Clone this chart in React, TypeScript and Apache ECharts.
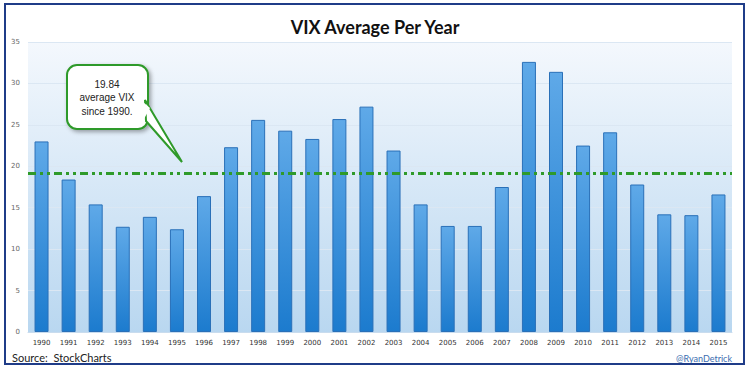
import React, { useEffect, useRef } from "react";
import * as echarts from "echarts";

const years = ["1990","1991","1992","1993","1994","1995","1996","1997","1998","1999","2000","2001","2002","2003","2004","2005","2006","2007","2008","2009","2010","2011","2012","2013","2014","2015"];
const vixAverage = [23.0, 18.4, 15.4, 12.7, 13.9, 12.4, 16.4, 22.3, 25.6, 24.3, 23.3, 25.7, 27.2, 21.9, 15.4, 12.8, 12.8, 17.5, 32.6, 31.4, 22.5, 24.1, 17.8, 14.2, 14.1, 16.6];
const averageLineLevel = 19.2;
const calloutLines = ["19.84", "average VIX", "since 1990."];

export default function App() {
  const ref = useRef<HTMLDivElement>(null);
  useEffect(() => {
    if (!ref.current) return;
    const chart = echarts.init(ref.current, null, { renderer: "svg" });
    const green = "#2f9a2a";
    chart.setOption({
      animation: false,
      backgroundColor: "#ffffff",
      title: {
        text: "VIX Average Per Year",
        left: "center",
        top: 13,
        textStyle: { fontFamily: "Lato", fontWeight: "bold", fontSize: 18, color: "#111" },
      },
      grid: {
        left: 28, right: 18, top: 42, bottom: 39,
        show: true,
        borderWidth: 0,
        backgroundColor: new echarts.graphic.LinearGradient(0, 0, 0, 1, [
          { offset: 0, color: "#f4f8fd" },
          { offset: 1, color: "#b9d7f0" },
        ]),
      },
      xAxis: {
        type: "category",
        data: years,
        axisTick: { show: false },
        axisLine: { show: true, lineStyle: { color: "#c9dcee" } },
        axisLabel: { fontSize: 7, color: "#333", margin: 7, fontFamily: "DejaVu Sans" },
      },
      yAxis: {
        type: "value",
        min: 0, max: 35, interval: 5,
        axisLabel: { fontSize: 7, color: "#666", margin: 8, fontFamily: "DejaVu Sans" },
        splitLine: { lineStyle: { color: "#dbe7f3", width: 1 } },
        axisLine: { show: false },
        axisTick: { show: false },
      },
      series: [
        {
          type: "bar",
          data: vixAverage,
          barWidth: 14,
          itemStyle: {
            color: new echarts.graphic.LinearGradient(0, 0, 0, 1, [
              { offset: 0, color: "#5fa9e8" },
              { offset: 1, color: "#1c7bce" },
            ]),
            borderColor: "#2a70b8",
            borderWidth: 1,
          },
          markLine: {
            symbol: "none",
            silent: true,
            label: { show: false },
            lineStyle: { color: green, width: 3, type: [8, 4, 3, 4, 3, 4], opacity: 1 },
            data: [{ yAxis: averageLineLevel }],
          },
        },
      ],
      graphic: [
        {
          type: "rect",
          shape: { x: 5, y: 4, width: 739, height: 360 },
          style: { fill: "none", stroke: "#1f3c88", lineWidth: 2 },
          z: 100,
        },
        {
          type: "text",
          x: 12, y: 357,
          style: { text: "Source:  StockCharts", fontSize: 11, fontFamily: "Lato", fill: "#222", verticalAlign: "middle" },
        },
        {
          type: "text",
          x: 732, y: 358,
          style: { text: "@RyanDetrick", fontSize: 9, fontFamily: "Lato", fill: "#3a6db0", align: "right", verticalAlign: "middle" },
        },
        {
          type: "rect",
          shape: { x: 67, y: 65, width: 81, height: 64, r: 10 },
          style: {
            fill: "#fff", stroke: green, lineWidth: 2,
            shadowBlur: 4, shadowColor: "rgba(0,0,0,0.35)", shadowOffsetX: 2, shadowOffsetY: 2,
          },
          z: 50,
        },
        {
          type: "polygon",
          shape: { points: [[145, 100], [182, 162], [146, 121]] },
          style: { fill: "#fff", stroke: green, lineWidth: 2 },
          z: 51,
        },
        {
          type: "polygon",
          shape: { points: [[143, 102], [150, 108], [144, 119]] },
          style: { fill: "#fff" },
          z: 52,
        },
        ...calloutLines.map((t, i) => ({
          type: "text",
          x: 107, y: 84 + i * 13.5,
          style: {
            text: t, fontSize: 10, fontFamily: "Liberation Sans", fill: "#222",
            align: "center", verticalAlign: "middle",
          },
          z: 53,
        })),
      ],
    });
    return () => chart.dispose();
  }, []);
  return <div ref={ref} style={{ position: "fixed", left: 0, top: 0, width: 750, height: 371 }} />;
}
